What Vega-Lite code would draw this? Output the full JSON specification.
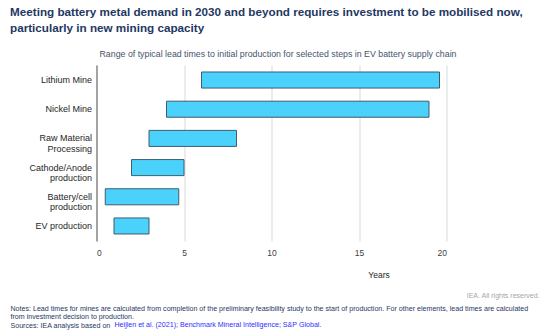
{
  "$schema": "https://vega.github.io/schema/vega-lite/v6.json",
  "width": 350,
  "height": 176,
  "autosize": {"type": "none"},
  "padding": {"left": 96.5, "top": 65, "right": 107.5, "bottom": 95},
  "background": "white",
  "config": {
    "font": "Liberation Sans",
    "view": {"stroke": null},
    "axis": {"labelFont": "Liberation Sans", "titleFont": "Liberation Sans"}
  },
  "title": {
    "text": ["Meeting battery metal demand in 2030 and beyond requires investment to be mobilised now,", "particularly in new mining capacity"],
    "anchor": "start",
    "frame": "group",
    "orient": "top",
    "dx": -86.5,
    "offset": 14,
    "fontSize": 11.7,
    "fontWeight": "bold",
    "color": "#1f3864",
    "lineHeight": 16,
    "font": "Liberation Sans"
  },
  "data": {
    "values": [
      {"step": "Lithium Mine", "start": 6, "end": 19.6},
      {"step": "Nickel Mine", "start": 4, "end": 19},
      {"step": "Raw Material|Processing", "start": 3, "end": 8},
      {"step": "Cathode/Anode|production", "start": 2, "end": 5},
      {"step": "Battery/cell|production", "start": 0.5, "end": 4.7},
      {"step": "EV production", "start": 1, "end": 3}
    ]
  },
  "resolve": {"axis": {"x": "independent", "y": "independent"}},
  "layer": [
    {
      "mark": {"type": "bar", "fill": "#4ad2fc", "stroke": "#3f5d6c", "strokeWidth": 1},
      "encoding": {
        "y": {
          "field": "step", "type": "nominal", "sort": null,
          "scale": {"paddingInner": 0.45, "paddingOuter": 0.24},
          "axis": {
            "orient": "left", "title": null, "ticks": false, "domain": true,
            "domainColor": "#8c8c8c", "domainWidth": 1.5,
            "labelExpr": "split(datum.label, '|')",
            "labelFontSize": 9, "labelColor": "#262626", "labelPadding": 5,
            "labelLineHeight": 10.5, "labelLimit": 200
          }
        },
        "x": {
          "field": "start", "type": "quantitative",
          "scale": {"domain": [0, 20], "nice": false, "zero": true},
          "axis": {
            "orient": "bottom", "values": [0, 5, 10, 15, 20],
            "grid": true, "gridColor": "#d9d9d9", "gridWidth": 1,
            "domain": false, "ticks": false,
            "labelFontSize": 8.5, "labelColor": "#404040", "labelPadding": 7,
            "title": "Years", "titleFontSize": 8.5, "titleFontWeight": "normal",
            "titleColor": "#262626", "titleX": 282, "titleY": 33,
            "titleBaseline": "middle", "titleAlign": "center"
          }
        },
        "x2": {"field": "end"}
      }
    },
    {
      "mark": {"type": "bar", "opacity": 0},
      "encoding": {
        "y": {
          "field": "step", "type": "nominal", "sort": null,
          "axis": {
            "orient": "right", "labels": false, "ticks": false, "domain": false, "grid": false,
            "title": "IEA. All rights reserved.", "titleAngle": 0, "titleFontSize": 7,
            "titleFontWeight": "normal", "titleColor": "#a6a6a6", "titleAlign": "right",
            "titleBaseline": "middle", "titleX": 92.5, "titleY": 230
          }
        },
        "x": {
          "field": "start", "type": "quantitative",
          "axis": {
            "orient": "top", "labels": false, "ticks": false, "domain": false, "grid": false,
            "title": "Range of typical lead times to initial production for selected steps in EV battery supply chain",
            "titleFontSize": 8.8, "titleFontWeight": "normal", "titleColor": "#44546a",
            "titleAlign": "center", "titleBaseline": "middle", "titleX": 181, "titleY": -12
          }
        },
        "x2": {"field": "end"}
      }
    },
    {
      "mark": {"type": "bar", "opacity": 0},
      "encoding": {
        "y": {
          "field": "step", "type": "nominal", "sort": null,
          "axis": {
            "orient": "left", "labels": false, "ticks": false, "domain": false, "grid": false,
            "title": "Heijlen et al. (2021); Benchmark Mineral Intelligence; S&P Global.",
            "titleAngle": 0, "titleFontSize": 7.1, "titleFontWeight": "normal",
            "titleColor": "#2e2efe", "titleAlign": "left", "titleBaseline": "middle",
            "titleX": 17.5, "titleY": 259
          }
        },
        "x": {
          "field": "start", "type": "quantitative",
          "axis": {
            "orient": "bottom", "labels": false, "ticks": false, "domain": false, "grid": false,
            "title": [
              "Notes: Lead times for mines are calculated from completion of the preliminary feasibility study to the start of production. For other elements, lead times are calculated",
              "from investment decision to production.",
              "Sources: IEA analysis based on"
            ],
            "titleFontSize": 7.1, "titleFontWeight": "normal", "titleColor": "#1f3864",
            "titleAlign": "left", "titleBaseline": "middle", "titleLineHeight": 8.5,
            "titleX": -86.5, "titleY": 67
          }
        },
        "x2": {"field": "end"}
      }
    }
  ]
}
